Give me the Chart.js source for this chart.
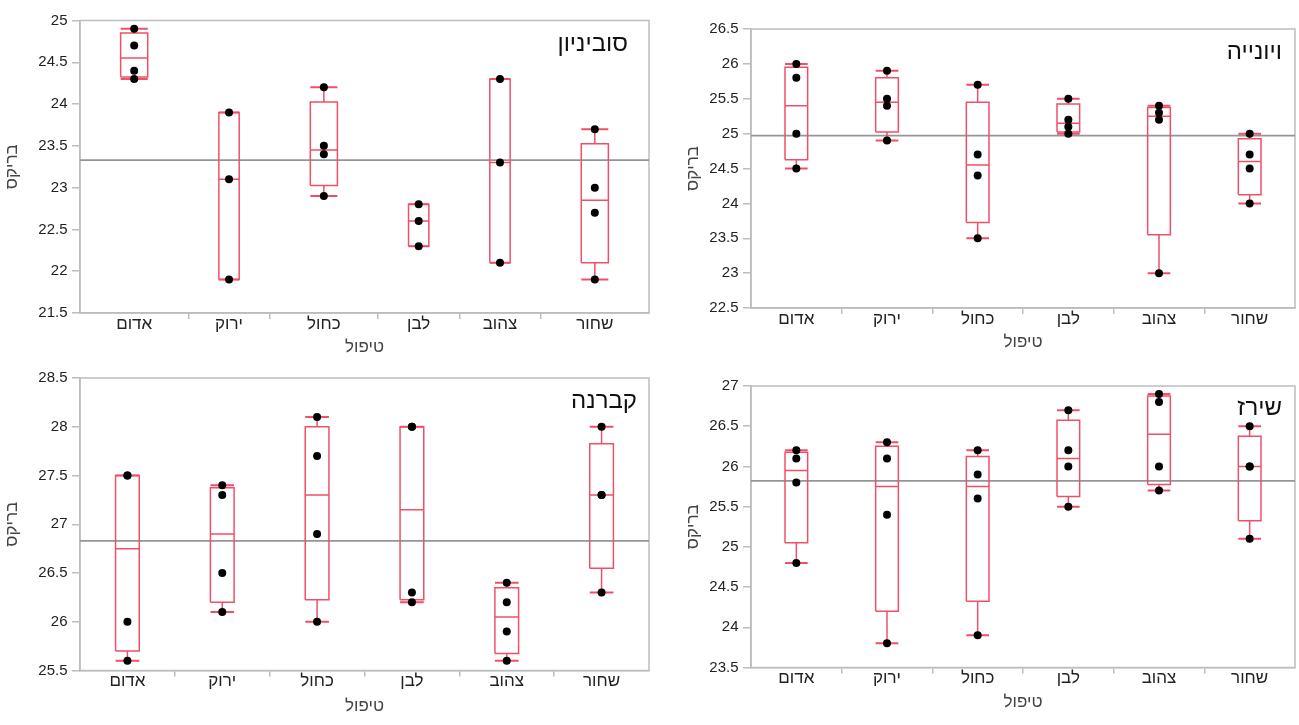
<!DOCTYPE html>
<html lang="he">
<head>
<meta charset="utf-8">
<script src="https://cdn.jsdelivr.net/npm/chart.js@4.4.1/dist/chart.umd.min.js"></script>
<style>
  html, body { margin: 0; padding: 0; background: #fff; }
  #wrap { position: relative; width: 1299px; height: 725px; overflow: hidden; }
  canvas { position: absolute; }
</style>
</head>
<body>
<div id="wrap">
  <canvas id="c0"></canvas>
  <canvas id="c1"></canvas>
  <canvas id="c2"></canvas>
  <canvas id="c3"></canvas>
</div>
<script>
// treatments (x categories) and grape varieties (panels)
const treatments = ['אדום', 'ירוק', 'כחול', 'לבן', 'צהוב', 'שחור'];
const panelTitles = ['סוביניון', 'ויונייה', 'קברנה', 'שירז'];
const yTitle = 'בריקס';
const xTitle = 'טיפול';

// brix readings per treatment
const sauvignon = [[24.9, 24.7, 24.4, 24.3], [23.9, 23.1, 21.9], [24.2, 23.5, 23.4, 22.9],
                   [22.8, 22.6, 22.3], [24.3, 23.3, 22.1], [23.7, 23.0, 22.7, 21.9]];
const viognier  = [[26.0, 25.8, 25.0, 24.5], [25.9, 25.5, 25.4, 24.9], [25.7, 24.7, 24.4, 23.5],
                   [25.5, 25.2, 25.1, 25.0], [25.4, 25.3, 25.2, 23.0], [25.0, 24.7, 24.5, 24.0]];
const cabernet  = [[27.5, 27.5, 26.0, 25.6], [27.4, 27.3, 26.5, 26.1], [28.1, 27.7, 26.9, 26.0],
                   [28.0, 28.0, 26.3, 26.2], [26.4, 26.2, 25.9, 25.6], [28.0, 27.3, 27.3, 26.3]];
const shiraz    = [[26.2, 26.1, 25.8, 24.8], [26.3, 26.1, 25.4, 23.8], [26.2, 25.9, 25.6, 23.9],
                   [26.7, 26.2, 26.0, 25.5], [26.9, 26.8, 26.0, 25.7], [26.5, 26.0, 26.0, 25.1]];

// grand mean line of each panel and y axis ranges
const meanLines = [23.33, 24.97, 26.83, 25.82];
const yRanges = [[21.5, 25], [22.5, 26.5], [25.5, 28.5], [23.5, 27]];

const RED = '#ef5068';
const GRAY = '#bdbdbd';
const FONT = "'Liberation Sans', 'DejaVu Sans', sans-serif";

// canvas placement + wanted plot area (canvas coords)
const panels = [
  { data: sauvignon, pos: [0, 0, 660, 362],   area: [80, 20.5, 649, 313],   tdx: 21, tdy: 24, yTitleX: 12, xTitleB: 15 },
  { data: viognier,  pos: [660, 0, 639, 362], area: [91, 29, 636, 308],     tdx: 13, tdy: 23, yTitleX: 33, xTitleB: 20 },
  { data: cabernet,  pos: [0, 362, 660, 363], area: [80, 16, 649, 308.5],   tdx: 12, tdy: 23, yTitleX: 12, xTitleB: 19 },
  { data: shiraz,    pos: [660, 362, 639, 363], area: [91, 24, 636.5, 305.5], tdx: 13, tdy: 22, yTitleX: 33, xTitleB: 23 }
];

// JMP style quantile
function quantile(s, p) {
  const pos = p * (s.length + 1);
  const lo = Math.floor(pos);
  const f = pos - lo;
  if (lo < 1) return s[0];
  if (lo >= s.length) return s[s.length - 1];
  return s[lo - 1] + f * (s[lo] - s[lo - 1]);
}

const framePlugin = {
  id: 'frame',
  beforeDatasetsDraw(chart) {
    const { ctx, chartArea: a } = chart;
    ctx.save();
    ctx.strokeStyle = GRAY;
    ctx.lineWidth = 1.5;
    ctx.strokeRect(a.left, a.top, a.width, a.height);
    ctx.restore();
  },
  afterDraw(chart, args, opts) {
    const { ctx, chartArea: a } = chart;
    ctx.save();
    ctx.font = '24px ' + FONT;
    ctx.fillStyle = '#111';
    ctx.textAlign = 'right';
    ctx.textBaseline = 'middle';
    ctx.fillText(opts.text, a.right - opts.dx, a.top + opts.dy);
    ctx.restore();
  }
};

function lineSet(data, width) {
  return {
    type: 'scatter', data: data, showLine: true, pointRadius: 0, borderColor: RED,
    borderWidth: width, spanGaps: false, tension: 0, fill: false
  };
}

panels.forEach((p, k) => {
  const canvas = document.getElementById('c' + k);
  canvas.width = p.pos[2];
  canvas.height = p.pos[3];
  canvas.style.left = p.pos[0] + 'px';
  canvas.style.top = p.pos[1] + 'px';

  const counts = p.data.map(g => g.length);
  const total = counts.reduce((a, b) => a + b, 0);
  const starts = [];
  let acc = 0;
  counts.forEach(n => { starts.push(acc); acc += n; });
  const centers = counts.map((n, i) => starts[i] + n / 2);
  const bounds = starts.slice(1);
  const isBound = v => bounds.some(b => Math.abs(b - v) < 1e-6);

  const pts = [], boxes = [], meds = [], whisk = [], caps = [];
  p.data.forEach((g, i) => {
    const s = [...g].sort((a, b) => a - b);
    const c = centers[i], w = counts[i] * 0.125;
    const lo = s[0], hi = s[s.length - 1];
    const q1 = quantile(s, 0.25), md = quantile(s, 0.5), q3 = quantile(s, 0.75);
    g.forEach(v => pts.push({ x: c, y: v }));
    boxes.push({ x: c - w, y: q1 }, { x: c + w, y: q1 }, { x: c + w, y: q3 }, { x: c - w, y: q3 }, { x: c - w, y: q1 }, { x: c, y: null });
    meds.push({ x: c - w, y: md }, { x: c + w, y: md }, { x: c, y: null });
    whisk.push({ x: c, y: lo }, { x: c, y: q1 }, { x: c, y: null }, { x: c, y: q3 }, { x: c, y: hi }, { x: c, y: null });
    caps.push({ x: c - w, y: lo }, { x: c + w, y: lo }, { x: c, y: null }, { x: c - w, y: hi }, { x: c + w, y: hi }, { x: c, y: null });
  });

  const [L, T, R, B] = p.area;

  new Chart(canvas, {
    type: 'scatter',
    data: {
      datasets: [
        { type: 'scatter', data: pts, pointRadius: 4, pointBackgroundColor: '#000', pointBorderWidth: 0 },
        lineSet(caps, 2),
        lineSet(whisk, 1.5),
        lineSet(meds, 1.5),
        lineSet(boxes, 1.5),
        { type: 'scatter', data: [{ x: 0, y: meanLines[k] }, { x: total, y: meanLines[k] }], showLine: true,
          pointRadius: 0, borderColor: '#959595', borderWidth: 1.8 }
      ]
    },
    options: {
      responsive: false,
      animation: false,
      events: [],
      layout: { padding: { left: 0, top: T, right: p.pos[2] - R, bottom: 0 } },
      plugins: {
        legend: { display: false },
        tooltip: { enabled: false },
        frame: { text: panelTitles[k], dx: p.tdx, dy: p.tdy }
      },
      scales: {
        x: {
          type: 'linear', min: 0, max: total,
          afterBuildTicks: scale => {
            scale.ticks = [...bounds, ...centers].sort((a, b) => a - b).map(v => ({ value: v }));
          },
          afterFit: scale => { scale.height = p.pos[3] - B; },
          border: { color: GRAY, width: 1.5 },
          grid: {
            drawOnChartArea: false, drawTicks: true, tickLength: 6, lineWidth: 1.5,
            color: ctx => (ctx.tick && isBound(ctx.tick.value)) ? GRAY : 'rgba(0,0,0,0)'
          },
          ticks: {
            autoSkip: false, maxRotation: 0, padding: -3.5, color: '#222',
            font: { family: FONT, size: 17, lineHeight: 1 },
            callback: v => {
              const i = centers.findIndex(c => Math.abs(c - v) < 1e-6);
              return i >= 0 ? treatments[i] : '';
            }
          },
          title: {
            display: true, text: xTitle, color: '#444',
            font: { family: FONT, size: 17, lineHeight: 1.2 },
            padding: { top: 0, bottom: p.xTitleB - 10.2 }
          }
        },
        y: {
          min: yRanges[k][0], max: yRanges[k][1],
          afterFit: scale => { scale.width = L; },
          border: { color: GRAY, width: 1.5 },
          grid: { drawOnChartArea: false, drawTicks: true, tickLength: 8, color: GRAY, lineWidth: 1.5 },
          ticks: {
            stepSize: 0.5, padding: 4.5, color: '#222',
            font: { family: FONT, size: 15 },
            callback: v => String(Math.round(v * 10) / 10)
          },
          title: {
            display: true, text: yTitle, color: '#444',
            font: { family: FONT, size: 17, lineHeight: 1.2 },
            padding: { top: p.yTitleX - 10.2, bottom: 0 }
          }
        }
      }
    },
    plugins: [framePlugin]
  });
});
</script>
</body>
</html>
